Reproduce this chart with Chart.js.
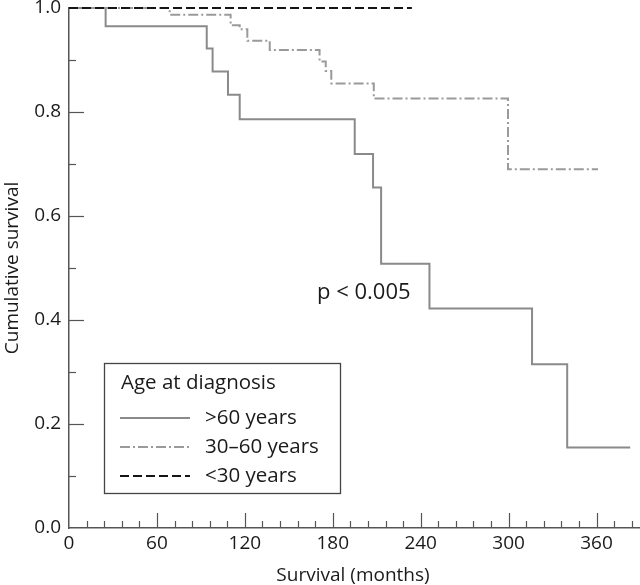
<!DOCTYPE html>
<html>
<head>
<meta charset="utf-8">
<script src="https://cdn.jsdelivr.net/npm/chart.js@4.4.1/dist/chart.umd.min.js"></script>
<style>
  body { margin: 0; background: #fff; }
  #wrap { width: 640px; height: 585px; position: relative; }
</style>
</head>
<body>
<div id="wrap"><canvas id="km"></canvas></div>
<script>
const seriesLabels = ['>60 years', '30–60 years', '<30 years'];

// Kaplan-Meier steps (months, cumulative survival)
const over60Months = [0, 25, 94, 98, 108.5, 116.5, 195, 207.5, 213, 246, 316, 340, 383];
const over60Surv = [1, 0.965, 0.922, 0.878, 0.833, 0.786, 0.719, 0.655, 0.508, 0.422, 0.315, 0.155, 0.155];

const midMonths = [0, 68.7, 110.3, 116.5, 121.7, 137, 171, 175.2, 179, 208, 299.6, 361];
const midSurv = [1, 0.987, 0.967, 0.959, 0.937, 0.919, 0.897, 0.879, 0.855, 0.826, 0.69, 0.69];

const under30Months = [0, 234];
const under30Surv = [1, 1];

const xTickLabels = [0, 60, 120, 180, 240, 300, 360];
const yTickLabels = [0, 0.2, 0.4, 0.6, 0.8, 1.0];
const xMax = 389;

const FONT = '"Open Sans", sans-serif';
const TEXT = '#1a1a1a';
const AXIS = '#555';

function toPoints(xs, ys) {
  return xs.map((x, i) => ({ x, y: ys[i] }));
}

function line(ctx, x1, y1, x2, y2) {
  ctx.beginPath();
  ctx.moveTo(x1, y1);
  ctx.lineTo(x2, y2);
  ctx.stroke();
}

// inward ticks, axis titles, p value and the boxed legend
const decorations = {
  id: 'decorations',
  afterDraw(chart) {
    const { ctx, chartArea: area } = chart;
    const sx = chart.scales.x;
    const sy = chart.scales.y;
    ctx.save();
    ctx.strokeStyle = AXIS;
    ctx.lineWidth = 1.2;
    for (let m = 12; m <= xMax; m += 12) {
      const px = Math.round(sx.getPixelForValue(m)) + 0.5;
      line(ctx, px, area.bottom, px, area.bottom - (m % 60 === 0 ? 15 : 7));
    }
    for (let k = 1; k < 10; k++) {
      const py = Math.round(sy.getPixelForValue(k / 10)) + 0.5;
      line(ctx, area.left, py, area.left + (k % 2 === 0 ? 15 : 7), py);
    }

    ctx.fillStyle = TEXT;
    ctx.font = '19px ' + FONT;
    ctx.textAlign = 'center';
    ctx.textBaseline = 'middle';
    ctx.fillText('Survival (months)', (area.left + area.right) / 2 - 1, 576);
    ctx.save();
    ctx.translate(13, (area.top + area.bottom) / 2);
    ctx.rotate(-Math.PI / 2);
    ctx.fillText('Cumulative survival', 0, 0);
    ctx.restore();

    ctx.font = '22px ' + FONT;
    ctx.textAlign = 'left';
    ctx.fillText('p < 0.005', 317, 293);

    // legend
    ctx.strokeStyle = '#444';
    ctx.lineWidth = 1.3;
    ctx.strokeRect(104.5, 363.5, 236, 130);
    ctx.font = '20.5px ' + FONT;
    ctx.fillText('Age at diagnosis', 121, 383);
    chart.data.datasets.forEach((ds, i) => {
      const yy = 418 + i * 29;
      ctx.save();
      ctx.strokeStyle = ds.borderColor;
      ctx.lineWidth = ds.borderWidth;
      ctx.setLineDash(ds.borderDash || []);
      line(ctx, 120, yy, 190, yy);
      ctx.restore();
      ctx.fillText(ds.label, 205, yy);
    });
    ctx.restore();
  }
};

new Chart(document.getElementById('km'), {
  type: 'line',
  data: {
    datasets: [
      {
        label: seriesLabels[0],
        data: toPoints(over60Months, over60Surv),
        borderColor: '#8a8a8a',
        borderWidth: 2,
        order: 2,
      },
      {
        label: seriesLabels[1],
        data: toPoints(midMonths, midSurv),
        borderColor: '#9a9a9a',
        borderWidth: 2,
        borderDash: [10, 3, 2, 3],
        order: 1,
      },
      {
        label: seriesLabels[2],
        data: toPoints(under30Months, under30Surv),
        borderColor: '#151515',
        borderWidth: 2,
        borderDash: [9, 4],
        order: 0,
      },
    ],
  },
  options: {
    responsive: true,
    maintainAspectRatio: false,
    animation: false,
    layout: { padding: { top: 8, right: 1, left: 0, bottom: 0 } },
    datasets: {
      line: { stepped: true, pointRadius: 0, fill: false, clip: false, tension: 0 },
    },
    plugins: {
      legend: { display: false },
      tooltip: { enabled: false },
    },
    scales: {
      x: {
        type: 'linear',
        min: 0,
        max: xMax,
        grid: { display: false, drawTicks: false },
        border: { display: true, color: AXIS, width: 1.5 },
        ticks: {
          padding: 4,
          color: TEXT,
          font: { family: FONT, size: 19 },
        },
        afterBuildTicks: s => { s.ticks = xTickLabels.map(v => ({ value: v })); },
        afterFit: s => {
          s.height = 57;
          s.paddingLeft = 0;
          s.paddingRight = 0;
        },
      },
      y: {
        min: 0,
        max: 1,
        grid: { display: false, drawTicks: false },
        border: { display: true, color: AXIS, width: 1.5 },
        ticks: {
          padding: 8,
          color: TEXT,
          font: { family: FONT, size: 19 },
          callback: v => v.toFixed(1),
        },
        afterBuildTicks: s => { s.ticks = yTickLabels.map(v => ({ value: v })); },
        afterFit: s => {
          s.width = 69;
          s.paddingTop = 0;
          s.paddingBottom = 0;
        },
      },
    },
  },
  plugins: [decorations],
});
</script>
</body>
</html>
